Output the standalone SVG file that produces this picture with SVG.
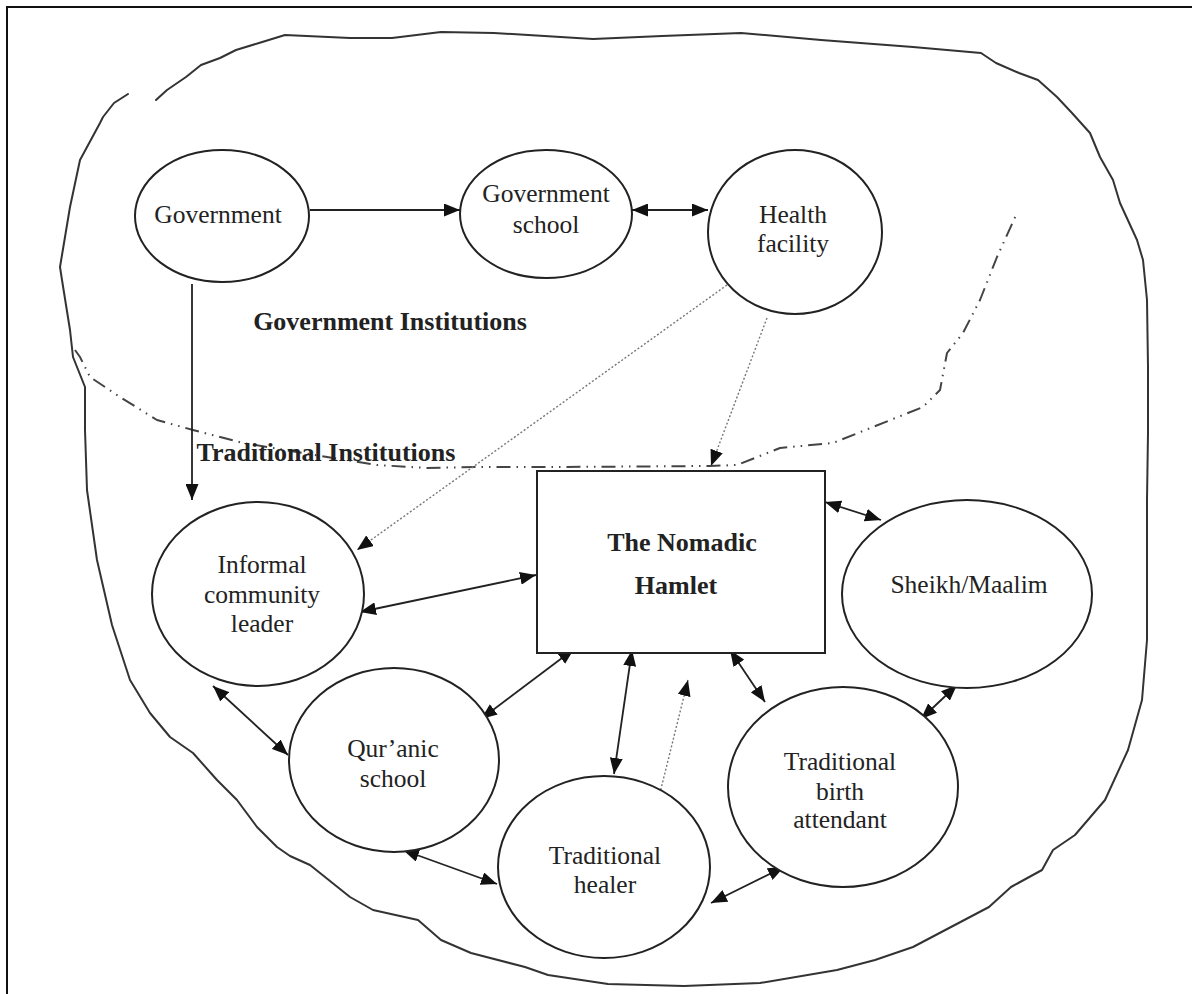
<svg xmlns="http://www.w3.org/2000/svg" width="1192" height="994" viewBox="0 0 1192 994">
  <style>
    .node { fill: #fff; stroke: #222; stroke-width: 2; }
    .lbl { font-family: "Liberation Serif", "Times New Roman", serif; font-size: 25.5px; fill: #222; text-anchor: middle; }
    .bold { font-weight: bold; font-size: 26px; }
    .edge { fill: none; stroke: #222; stroke-width: 1.8; }
    .dot { fill: none; stroke: #777; stroke-width: 1.4; stroke-dasharray: 2 2; }
    .hand { fill: none; stroke: #333; stroke-width: 2; stroke-linejoin: round; stroke-linecap: round; }
    .border { fill: none; stroke: #444; stroke-width: 2; stroke-dasharray: 14 6 1.5 6 1.5 6; stroke-linejoin: round; }
  </style>
  <defs>
    <marker id="arr" viewBox="0 0 16 13" refX="16" refY="6.5" markerWidth="16" markerHeight="13" markerUnits="userSpaceOnUse" orient="auto-start-reverse">
      <path d="M0,0 L16,6.5 L0,13 Z" fill="#111"/>
    </marker>
  </defs>

  <!-- page frame -->
  <path d="M7,994 V7 H1192" fill="none" stroke="#111" stroke-width="2"/>

  <!-- hand-drawn community outline -->
  <path class="hand" d="M156,100 L167,90 L186,77 L201,65 L220,58 L236,50 L259,43 L285,35 L350,38 L392,38 L441,32 L494,33 L593,39 L662,36 L741,33 L821,40 L913,47 L981,53 L996,63 L1019,73 L1038,80 L1057,97 L1072,113 L1090,133 L1100,157 L1113,180 L1120,203 L1137,240 L1143,260 L1147,300 L1148,367 L1148,433 L1147,500 L1147,567 L1147,640 L1142,700 L1128,750 L1105,800 L1075,835 L1053,850 L1042,870 L1011,887 L989,907 L951,927 L913,947 L875,960 L837,970 L760,983 L684,986 L608,984 L548,975 L525,967 L471,953 L441,940 L418,920 L373,910 L350,897 L310,865 L290,856 L277,847 L257,827 L237,800 L217,780 L193,753 L170,737 L150,713 L130,680 L112,625 L97,560 L87,490 L85,430 L85,387 L73,357 L70,330 L62,280 L60,267 L70,207 L80,160 L100,123 L103,117 L114,103 L128,94"/>

  <!-- boundary between government and traditional institutions -->
  <path class="border" d="M75,350 L80,357 L90,377 L120,397 L157,420 L193,430 L243,443 L327,457 L377,465 L427,468 L477,467 L560,467 L710,466 L737,465 L780,448 L833,443 L873,427 L923,407 L940,390 L947,353 L963,333 L980,300 L997,257 L1017,213"/>

  <text class="lbl bold" x="390" y="330">Government Institutions</text>
  <text class="lbl bold" x="326" y="461">Traditional Institutions</text>

  <!-- connectors -->
  <g id="connectors">
    <line class="edge" x1="310" y1="210" x2="460" y2="210" marker-end="url(#arr)"/>
    <line class="edge" x1="632" y1="210" x2="708" y2="210" marker-start="url(#arr)" marker-end="url(#arr)"/>
    <line class="edge" x1="192" y1="284" x2="192" y2="500" marker-end="url(#arr)"/>
    <line class="dot" x1="727" y1="285" x2="357" y2="550" marker-end="url(#arr)"/>
    <line class="dot" x1="767" y1="318" x2="711" y2="466" marker-end="url(#arr)"/>
    <line class="edge" x1="360" y1="612" x2="536" y2="575" marker-start="url(#arr)" marker-end="url(#arr)"/>
    <line class="edge" x1="213" y1="686" x2="288" y2="755" marker-start="url(#arr)" marker-end="url(#arr)"/>
    <line class="edge" x1="481" y1="719" x2="574" y2="649" marker-start="url(#arr)" marker-end="url(#arr)"/>
    <line class="edge" x1="403" y1="850" x2="497" y2="884" marker-start="url(#arr)" marker-end="url(#arr)"/>
    <line class="edge" x1="632" y1="650" x2="614" y2="774" marker-start="url(#arr)" marker-end="url(#arr)"/>
    <line class="dot" x1="652" y1="825" x2="688" y2="680" marker-end="url(#arr)"/>
    <line class="edge" x1="730" y1="650" x2="765" y2="702" marker-start="url(#arr)" marker-end="url(#arr)"/>
    <line class="edge" x1="957" y1="685" x2="921" y2="719" marker-start="url(#arr)" marker-end="url(#arr)"/>
    <line class="edge" x1="711" y1="903" x2="784" y2="867" marker-start="url(#arr)" marker-end="url(#arr)"/>
    <line class="edge" x1="825" y1="502" x2="881" y2="520" marker-start="url(#arr)" marker-end="url(#arr)"/>
  </g>

  <!-- nodes -->
  <g id="government">
    <ellipse class="node" cx="222" cy="216" rx="87" ry="66"/>
    <text class="lbl" x="218" y="223">Government</text>
  </g>
  <g id="government-school">
    <ellipse class="node" cx="546" cy="214" rx="86" ry="64"/>
    <text class="lbl" x="546" y="202">Government</text>
    <text class="lbl" x="546" y="233">school</text>
  </g>
  <g id="health-facility">
    <ellipse class="node" cx="795" cy="232" rx="87" ry="82"/>
    <text class="lbl" x="793" y="223">Health</text>
    <text class="lbl" x="793" y="252">facility</text>
  </g>
  <g id="nomadic-hamlet">
    <rect class="node" x="537" y="471" width="288" height="182"/>
    <text class="lbl bold" x="682" y="551">The Nomadic</text>
    <text class="lbl bold" x="676" y="594">Hamlet</text>
  </g>
  <g id="informal-leader">
    <ellipse class="node" cx="258" cy="594" rx="106" ry="92"/>
    <text class="lbl" x="262" y="573">Informal</text>
    <text class="lbl" x="262" y="603">community</text>
    <text class="lbl" x="262" y="632">leader</text>
  </g>
  <g id="sheikh-maalim">
    <ellipse class="node" cx="967" cy="594" rx="125" ry="94"/>
    <text class="lbl" x="969" y="593">Sheikh/Maalim</text>
  </g>
  <g id="quranic-school">
    <ellipse class="node" cx="394" cy="760" rx="105" ry="92"/>
    <text class="lbl" x="393" y="757">Qur’anic</text>
    <text class="lbl" x="393" y="787">school</text>
  </g>
  <g id="traditional-healer">
    <ellipse class="node" cx="604" cy="867" rx="106" ry="91"/>
    <text class="lbl" x="605" y="864">Traditional</text>
    <text class="lbl" x="605" y="893">healer</text>
  </g>
  <g id="birth-attendant">
    <ellipse class="node" cx="843" cy="787" rx="115" ry="100"/>
    <text class="lbl" x="840" y="770">Traditional</text>
    <text class="lbl" x="840" y="800">birth</text>
    <text class="lbl" x="840" y="828">attendant</text>
  </g>
</svg>
